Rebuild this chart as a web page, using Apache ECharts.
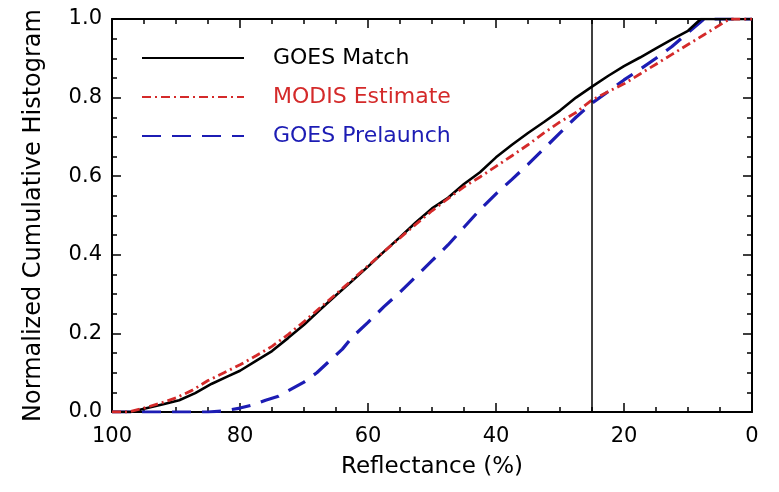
<!DOCTYPE html>
<html>
<head>
<meta charset="utf-8">
<script src="https://cdn.jsdelivr.net/npm/echarts@6/dist/echarts.min.js"></script>
<style>html,body{margin:0;padding:0;background:#fff}#c{width:779px;height:492px}</style>
</head>
<body>
<div id="c"></div>
<script>
// ---- data ----
const seriesNames = ['GOES Match', 'MODIS Estimate', 'GOES Prelaunch'];
const matchX = [100, 97, 95, 92, 89.5, 87, 84.4, 82, 80, 77.5, 75, 72.5, 70, 67.5, 65, 62.5, 60, 57.5, 55, 52.5, 50, 47.5, 45, 42.5, 40, 37.5, 35, 32.5, 30, 27.5, 25, 22.5, 20, 17.5, 15, 12.5, 10, 8, 0];
const matchY = [0, 0, 0.008, 0.02, 0.03, 0.048, 0.072, 0.09, 0.105, 0.13, 0.155, 0.188, 0.222, 0.26, 0.297, 0.333, 0.37, 0.408, 0.445, 0.483, 0.518, 0.545, 0.58, 0.61, 0.648, 0.68, 0.71, 0.738, 0.767, 0.8, 0.828, 0.855, 0.88, 0.902, 0.925, 0.948, 0.97, 1.0, 1.0];
const modisX = [100, 97.5, 95, 92.5, 90, 87.5, 85, 82.5, 80, 77.5, 75, 72.5, 70, 67.5, 65, 62.5, 60, 57.5, 55, 52.5, 50, 47.5, 45, 42.5, 40, 37.5, 35, 32.5, 30, 27.5, 25, 22.5, 20, 17.5, 15, 12.5, 10, 7.5, 5, 3.5, 0];
const modisY = [0, 0, 0.01, 0.022, 0.036, 0.055, 0.08, 0.1, 0.12, 0.143, 0.167, 0.197, 0.23, 0.265, 0.3, 0.336, 0.372, 0.408, 0.443, 0.478, 0.512, 0.543, 0.573, 0.598, 0.625, 0.652, 0.68, 0.71, 0.738, 0.762, 0.794, 0.815, 0.835, 0.86, 0.885, 0.91, 0.935, 0.96, 0.985, 1.0, 1.0];
const prelaunchX = [100, 85, 82.5, 80, 78, 76, 74, 72, 70, 68, 66, 64, 62.5, 60, 57.5, 55, 52.5, 50, 47.5, 45, 42.5, 40, 37.5, 35, 32.5, 30, 27.5, 25, 22.5, 20, 17.5, 15, 12.5, 10, 7.5, 0];
const prelaunchY = [0, 0, 0.003, 0.01, 0.018, 0.03, 0.04, 0.058, 0.076, 0.1, 0.13, 0.16, 0.19, 0.228, 0.268, 0.305, 0.345, 0.385, 0.425, 0.47, 0.515, 0.555, 0.592, 0.63, 0.67, 0.71, 0.75, 0.786, 0.815, 0.845, 0.872, 0.9, 0.93, 0.965, 1.0, 1.0];
const thresholdX = [25];
const xTicks = [0, 20, 40, 60, 80, 100];
const yTicks = [0, 0.2, 0.4, 0.6, 0.8, 1.0];

const pairs = (xs, ys) => xs.map((x, i) => [x, ys[i]]);
const FONT = 'DejaVu Sans';

function axisCommon(showLabel) {
  return {
    axisLine: { show: true, onZero: false, lineStyle: { color: '#000', width: 2 } },
    axisTick: { show: true, inside: true, length: 9, lineStyle: { color: '#000', width: 1.5 } },
    minorTick: { show: true, splitNumber: 4, length: 5, lineStyle: { color: '#000', width: 1.5 } },
    splitLine: { show: false },
    minorSplitLine: { show: false },
    axisLabel: { show: showLabel, color: '#000', fontFamily: FONT, fontSize: 21 }
  };
}

const chart = echarts.init(document.getElementById('c'), null, { renderer: 'canvas' });
const xBase = { type: 'value', min: xTicks[0], max: xTicks[xTicks.length - 1], interval: xTicks[1] - xTicks[0], inverse: true };
const yBase = { type: 'value', min: yTicks[0], max: yTicks[yTicks.length - 1], interval: 0.2 };

const colors = ['#000000', '#d42a2a', '#1c1cb4'];

chart.setOption({
  animation: false,
  backgroundColor: '#fff',
  grid: { left: 112, right: 27, top: 19, bottom: 80, containLabel: false },
  xAxis: [
    Object.assign({}, xBase, axisCommon(true), {
      position: 'bottom',
      name: 'Reflectance (%)', nameLocation: 'middle', nameGap: 44,
      nameTextStyle: { color: '#000', fontFamily: FONT, fontSize: 23 },
      axisLabel: { show: true, color: '#000', fontFamily: FONT, fontSize: 21, margin: 14 }
    }),
    Object.assign({}, xBase, axisCommon(false), { position: 'top' })
  ],
  yAxis: [
    Object.assign({}, yBase, axisCommon(true), {
      position: 'left',
      name: 'Normalized Cumulative Histogram', nameLocation: 'middle', nameGap: 66,
      nameTextStyle: { color: '#000', fontFamily: FONT, fontSize: 24 },
      axisLabel: { show: true, color: '#000', fontFamily: FONT, fontSize: 21, margin: 10,
        formatter: v => v.toFixed(1) }
    }),
    Object.assign({}, yBase, axisCommon(false), { position: 'right' })
  ],
  legend: {
    orient: 'vertical', left: 136, top: 41,
    itemWidth: 102, itemHeight: 14, itemGap: 15,
    itemStyle: { opacity: 0 },
    data: seriesNames.map((n, i) => ({ name: n, textStyle: { color: colors[i] } })),
    textStyle: { fontFamily: FONT, fontSize: 22, lineHeight: 24, padding: [0, 0, 0, 24] }
  },
  series: [
    {
      name: seriesNames[0], type: 'line', data: pairs(matchX, matchY), xAxisIndex: 0, yAxisIndex: 0,
      symbol: 'none', showSymbol: false, z: 3,
      lineStyle: { color: colors[0], width: 2.6, type: 'solid' }, itemStyle: { color: colors[0] },
      markLine: {
        silent: true, symbol: 'none', label: { show: false },
        lineStyle: { color: '#000', width: 1.5, type: 'solid' },
        data: thresholdX.map(v => ({ xAxis: v }))
      }
    },
    {
      name: seriesNames[1], type: 'line', data: pairs(modisX, modisY), xAxisIndex: 0, yAxisIndex: 0,
      symbol: 'none', showSymbol: false, z: 4,
      lineStyle: { color: colors[1], width: 2.8, type: [9, 4, 2, 4] }, itemStyle: { color: colors[1] }
    },
    {
      name: seriesNames[2], type: 'line', data: pairs(prelaunchX, prelaunchY), xAxisIndex: 0, yAxisIndex: 0,
      symbol: 'none', showSymbol: false, z: 2,
      lineStyle: { color: colors[2], width: 3.2, type: [19, 11] }, itemStyle: { color: colors[2] }
    }
  ]
});
</script>
</body>
</html>
